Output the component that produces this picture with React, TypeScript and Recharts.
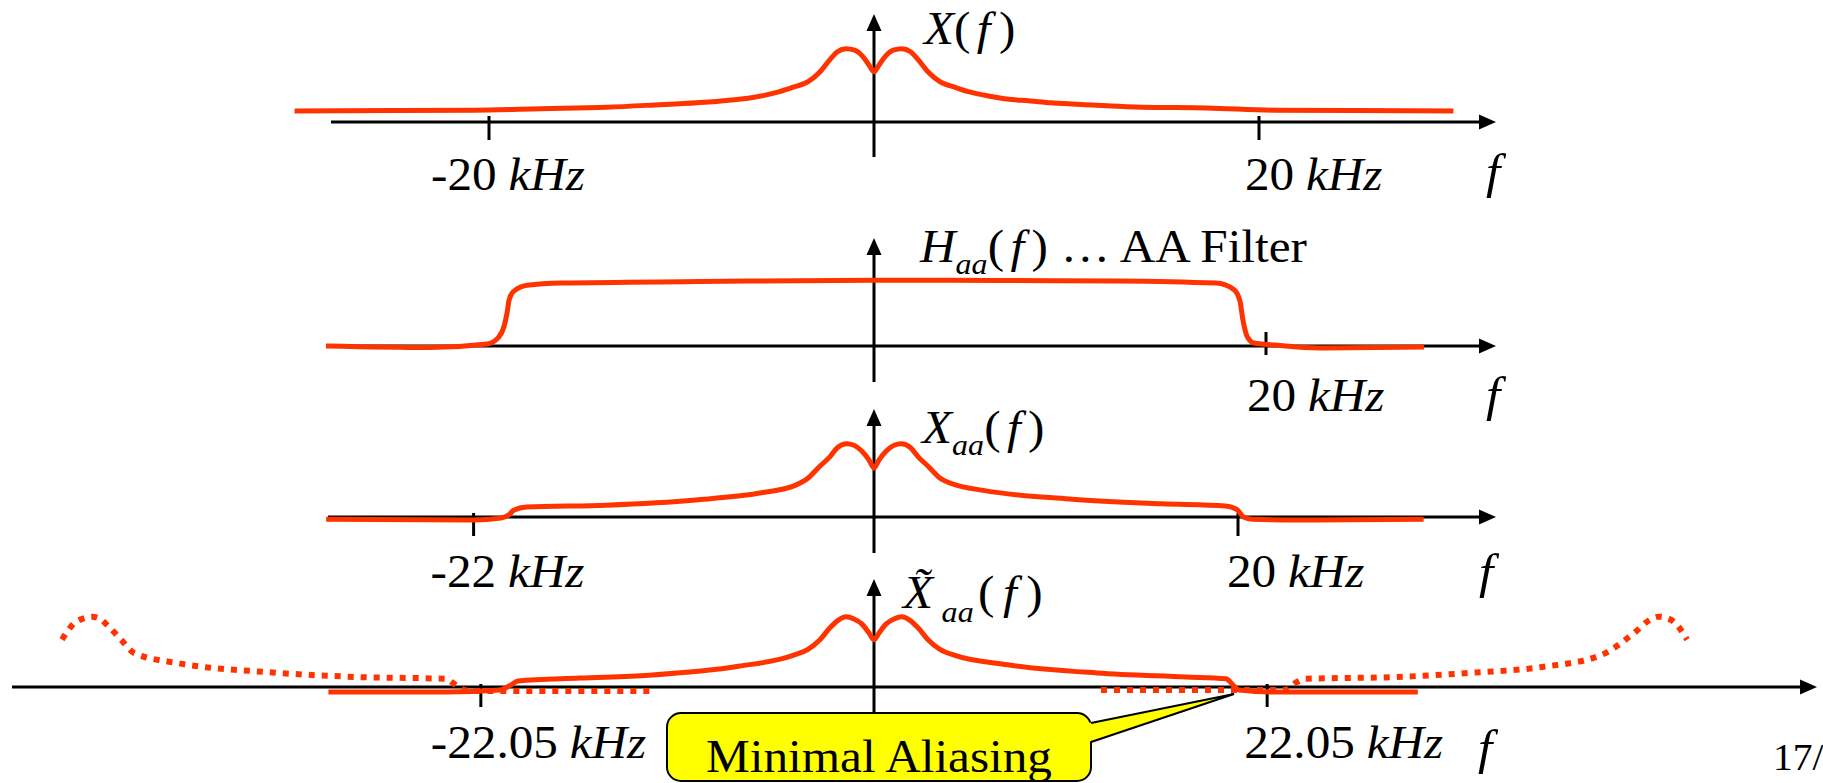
import React from "react";
import { LineChart, Line, XAxis, YAxis, ReferenceLine, ReferenceDot } from "recharts";

// X(f): input spectrum, frequency in kHz, magnitude relative to the peak
const spectrumF = [-30.1, -24.9, -20.8, -17.3, -13.9, -11.4, -9.2, -6.9, -5.7, -4.9, -4.2, -3.4, -2.8, -2.3, -1.9, -1.45, -1.0, -0.6, -0.26, 0, 0.26, 0.6, 1.0, 1.45, 1.9, 2.3, 2.8, 3.4, 4.2, 4.9, 5.7, 6.9, 8.1, 9.2, 11.4, 13.9, 17.3, 20.8, 24.9, 30.1];
const spectrumA = [0.15, 0.155, 0.16, 0.18, 0.2, 0.23, 0.26, 0.31, 0.36, 0.41, 0.47, 0.55, 0.68, 0.84, 0.95, 0.99, 0.97, 0.89, 0.77, 0.68, 0.77, 0.89, 0.97, 0.99, 0.95, 0.84, 0.68, 0.55, 0.47, 0.41, 0.365, 0.31, 0.285, 0.26, 0.23, 0.2, 0.19, 0.16, 0.155, 0.15];

// H_aa(f): anti-aliasing filter
const filterF = [-27.96, -22.7, -19.74, -19.18, -18.88, -18.72, -18.62, -18.42, -17.7, -15.92, -8.88, 0, 6.43, 12.45, 17.45, 18.37, 18.67, 18.83, 19.03, 19.39, 20.41, 22.7, 28.06];
const filterA = [0, -0.02, 0.027, 0.11, 0.26, 0.45, 0.62, 0.73, 0.82, 0.85, 0.87, 0.89, 0.885, 0.88, 0.85, 0.76, 0.61, 0.34, 0.135, 0.04, 0.014, -0.027, -0.014];

// X_aa(f): filtered spectrum
const filteredF = [-30.1, -22.0, -20.5, -20.05, -19.8, -19.1, -14.7, -9.8, -6.1, -4.4, -3.6, -3.0, -2.4, -2.0, -1.5, -1.1, -0.66, -0.27, 0, 0.27, 0.66, 1.1, 1.5, 2.0, 2.4, 3.0, 3.6, 4.4, 6.0, 10.9, 15.8, 19.3, 19.95, 20.3, 20.8, 23.2, 30.2];
const filteredA = [-0.03, -0.04, -0.015, 0.03, 0.09, 0.135, 0.16, 0.23, 0.33, 0.42, 0.53, 0.68, 0.82, 0.94, 0.99, 0.97, 0.89, 0.77, 0.66, 0.77, 0.89, 0.97, 0.99, 0.94, 0.82, 0.68, 0.53, 0.44, 0.36, 0.24, 0.18, 0.15, 0.1, 0.0, -0.03, -0.04, -0.03];

// X~_aa(f): sampled spectrum, base band plus the two neighbouring images
const sampledF = [-30.6, -24.0, -21.0, -20.36, -19.97, -16.5, -12.6, -7.6, -4.5, -3.7, -3.03, -2.47, -2.02, -1.57, -1.12, -0.67, -0.28, 0, 0.28, 0.67, 1.12, 1.57, 2.02, 2.47, 3.03, 3.7, 4.5, 7.5, 12.5, 17.5, 19.74, 20.13, 20.47, 22.5, 30.5];
const sampledA = [-0.068, -0.068, -0.04, 0.027, 0.08, 0.12, 0.16, 0.28, 0.43, 0.51, 0.64, 0.8, 0.9, 0.95, 0.92, 0.85, 0.73, 0.64, 0.73, 0.85, 0.92, 0.95, 0.9, 0.8, 0.64, 0.51, 0.43, 0.3, 0.19, 0.135, 0.11, 0.03, -0.04, -0.068, -0.068];
const aliasLeftF = [-45.54, -44.87, -44.3, -43.87, -43.4, -43.02, -42.23, -41.5, -38.98, -33.99, -29.0, -24.0, -23.61, -23.22, -22.66, -12.56];
const aliasLeftA = [0.64, 0.86, 0.93, 0.95, 0.92, 0.84, 0.64, 0.46, 0.32, 0.2, 0.135, 0.11, 0.054, -0.014, -0.054, -0.054];
const aliasRightF = [12.73, 20.25, 23.05, 23.72, 24.17, 29.28, 33.37, 37.46, 40.77, 42.63, 43.6, 44.03, 44.5, 44.87, 45.6];
const aliasRightA = [-0.04, -0.04, -0.04, 0.068, 0.11, 0.135, 0.19, 0.27, 0.43, 0.73, 0.92, 0.95, 0.93, 0.88, 0.64];

// tick values (kHz)
const ticksX = [-20, 20];
const ticksH = [20];
const ticksXaa = [-22, 20];
const ticksXs = [-22.05, 22.05];

const RED = "#ff3300";
const SERIF = '"Liberation Serif", "Times New Roman", Times, serif';
const PAGE_W = 1823;
const PAGE_H = 783;
const ZERO_PX = 874; // page x of f = 0
const UNIT = 74; // px per magnitude unit
const PLOT_H = 148; // y domain [-0.5, 1.5]
const TOP_PAD = 45;
const FS = 46;
const SX = 1.07; // slide text is slightly stretched

type Row = { f: number; a: number };
type Curve = { key: string; rows: Row[]; dashed?: boolean };

const toRows = (f: number[], a: number[]): Row[] => f.map((v, i) => ({ f: v, a: a[i] }));

function T(x: number, y: number, children: React.ReactNode, size = FS, anchor: "start" | "middle" = "start") {
  return (
    <g transform={`translate(${x},${y}) scale(${SX},1)`}>
      <text x={0} y={0} fontFamily={SERIF} fontSize={size} fill="#000" textAnchor={anchor}>
        {children}
      </text>
    </g>
  );
}

function arrowShape(after?: (x: number, y: number) => React.ReactNode) {
  return (p: any) => {
    const { x1, y1, x2, y2 } = p;
    const len = Math.hypot(x2 - x1, y2 - y1) || 1;
    const ux = (x2 - x1) / len;
    const uy = (y2 - y1) / len;
    const L = 17;
    const W = 7.5;
    const bx = x2 - ux * L;
    const by = y2 - uy * L;
    return (
      <g>
        <line x1={x1} y1={y1} x2={bx + ux * 2} y2={by + uy * 2} stroke="#000" strokeWidth={3} />
        <polygon points={`${x2},${y2} ${bx - uy * W},${by + ux * W} ${bx + uy * W},${by - ux * W}`} fill="#000" />
        {after ? after(x2, y2) : null}
      </g>
    );
  };
}

const kHz = (v: number) => (
  <>
    <tspan>{String(v)}</tspan>
    <tspan fontStyle="italic" dx={11}>kHz</tspan>
  </>
);

type Panel = {
  id: string;
  axisY: number;
  kpx: number;
  axisFromPx: number;
  axisToPx: number;
  vBottom: number;
  ticks: number[];
  tickUp: number;
  tickDown: number;
  labelDx: number[];
  labelDy: number;
  fPx: number;
  fDy: number;
  title: React.ReactNode;
  titleDx: number;
  titleDy: number;
  bottom: number;
  curves: Curve[];
};

const titleX = (
  <>
    <tspan fontStyle="italic">X</tspan>
    <tspan>(</tspan>
    <tspan fontStyle="italic" dx={6}>f</tspan>
    <tspan dx={8}>)</tspan>
  </>
);
const titleH = (
  <>
    <tspan fontStyle="italic">H</tspan>
    <tspan fontStyle="italic" fontSize={30} dy={12}>aa</tspan>
    <tspan dy={-12}>(</tspan>
    <tspan fontStyle="italic" dx={6}>f</tspan>
    <tspan dx={7}>)</tspan>
    <tspan dx={12}>… AA Filter</tspan>
  </>
);
const titleXaa = (
  <>
    <tspan fontStyle="italic">X</tspan>
    <tspan fontStyle="italic" fontSize={30} dy={12}>aa</tspan>
    <tspan dy={-12}>(</tspan>
    <tspan fontStyle="italic" dx={6}>f</tspan>
    <tspan dx={7}>)</tspan>
  </>
);
const titleXs = (
  <>
    <tspan fontStyle="italic">{"X\u0303"}</tspan>
    <tspan fontStyle="italic" fontSize={30} dy={14} dx={8}>aa</tspan>
    <tspan dy={-14} dx={4}>(</tspan>
    <tspan fontStyle="italic" dx={8}>f</tspan>
    <tspan dx={9}>)</tspan>
  </>
);

const callout = (p: any) => {
  const { cx, cy } = p;
  const left = cx - 567;
  const right = cx - 143;
  const top = cy + 19;
  return (
    <g>
      <rect x={left} y={top} width={right - left} height={68} rx={14} ry={14} fill="#ffff00" stroke="#000" strokeWidth={2} />
      <polygon points={`${right - 3},${cy + 29} ${cx},${cy} ${right - 3},${cy + 48}`} fill="#ffff00" />
      <polyline points={`${right},${cy + 29} ${cx},${cy} ${right},${cy + 48}`} fill="none" stroke="#000" strokeWidth={2} />
      {T((left + right) / 2, cy + 78, "Minimal Aliasing", FS, "middle")}
    </g>
  );
};

const panels: Panel[] = [
  {
    id: "x",
    axisY: 122,
    kpx: 19.25,
    axisFromPx: 331,
    axisToPx: 1496,
    vBottom: 35,
    ticks: ticksX,
    tickUp: 6,
    tickDown: 18,
    labelDx: [-58, -14],
    labelDy: 68,
    fPx: 1486,
    fDy: 66,
    title: titleX,
    titleDx: 50,
    titleDy: 30,
    bottom: 62,
    curves: [{ key: "x", rows: toRows(spectrumF, spectrumA) }],
  },
  {
    id: "h",
    axisY: 346,
    kpx: 19.6,
    axisFromPx: 328,
    axisToPx: 1496,
    vBottom: 36,
    ticks: ticksH,
    tickUp: 14,
    tickDown: 9,
    labelDx: [-19],
    labelDy: 65,
    fPx: 1486,
    fDy: 65,
    title: titleH,
    titleDx: 46,
    titleDy: 24,
    bottom: 62,
    curves: [{ key: "h", rows: toRows(filterF, filterA) }],
  },
  {
    id: "xaa",
    axisY: 517,
    kpx: 18.2,
    axisFromPx: 328,
    axisToPx: 1496,
    vBottom: 36,
    ticks: ticksXaa,
    tickUp: 4,
    tickDown: 19,
    labelDx: [-43, -11],
    labelDy: 70,
    fPx: 1479,
    fDy: 71,
    title: titleXaa,
    titleDx: 48,
    titleDy: 34,
    bottom: 62,
    curves: [{ key: "xaa", rows: toRows(filteredF, filteredA) }],
  },
  {
    id: "xs",
    axisY: 687,
    kpx: 17.83,
    axisFromPx: 12,
    axisToPx: 1817,
    vBottom: 26,
    ticks: ticksXs,
    tickUp: 3,
    tickDown: 20,
    labelDx: [-50, -23],
    labelDy: 71,
    fPx: 1478,
    fDy: 77,
    title: titleXs,
    titleDx: 29,
    titleDy: 29,
    bottom: 59,
    curves: [
      { key: "al", rows: toRows(aliasLeftF, aliasLeftA), dashed: true },
      { key: "ar", rows: toRows(aliasRightF, aliasRightA), dashed: true },
      { key: "xs", rows: toRows(sampledF, sampledA) },
    ],
  },
];

function renderPanel(p: Panel) {
  const top = p.axisY - 1.5 * UNIT - TOP_PAD;
  const toF = (px: number) => (px - ZERO_PX) / p.kpx;
  return (
    <div key={p.id} style={{ position: "absolute", left: 0, top }}>
      <LineChart
        width={PAGE_W}
        height={TOP_PAD + PLOT_H + p.bottom}
        margin={{ top: TOP_PAD, right: 0, bottom: p.bottom, left: 0 }}
      >
        <XAxis type="number" dataKey="f" domain={[toF(0), toF(PAGE_W)]} hide />
        <YAxis type="number" dataKey="a" domain={[-0.5, 1.5]} hide />
        <ReferenceLine
          segment={[{ x: toF(p.axisFromPx), y: 0 }, { x: toF(p.axisToPx), y: 0 }]}
          ifOverflow="visible"
          shape={arrowShape()}
        />
        <ReferenceLine
          segment={[{ x: 0, y: -p.vBottom / UNIT }, { x: 0, y: 108 / UNIT }]}
          ifOverflow="visible"
          shape={arrowShape((x, y) => T(x + p.titleDx, y + p.titleDy, p.title))}
        />
        {p.ticks.map((t) => (
          <ReferenceLine
            key={`t${t}`}
            segment={[{ x: t, y: p.tickUp / UNIT }, { x: t, y: -p.tickDown / UNIT }]}
            ifOverflow="visible"
            stroke="#000"
            strokeWidth={3}
          />
        ))}
        {p.ticks.map((t, i) => (
          <ReferenceDot
            key={`l${t}`}
            x={t}
            y={0}
            r={0}
            ifOverflow="visible"
            shape={(d: any) => T(d.cx + p.labelDx[i], d.cy + p.labelDy, kHz(t))}
          />
        ))}
        <ReferenceDot
          x={toF(p.fPx)}
          y={0}
          r={0}
          ifOverflow="visible"
          shape={(d: any) => T(d.cx, d.cy + p.fDy, <tspan fontStyle="italic">f</tspan>, 48)}
        />
        {p.curves.map((c) => (
          <Line
            key={c.key}
            data={c.rows}
            dataKey="a"
            type="monotone"
            stroke={RED}
            strokeWidth={c.dashed ? 6 : 5}
            strokeDasharray={c.dashed ? "6 7" : undefined}
            strokeLinejoin="round"
            dot={false}
            activeDot={false}
            isAnimationActive={false}
          />
        ))}
        {p.id === "xs" ? (
          <ReferenceDot x={toF(1234)} y={-7 / UNIT} r={0} ifOverflow="visible" shape={callout} />
        ) : null}
        {p.id === "xs" ? (
          <ReferenceDot
            x={toF(1773)}
            y={0}
            r={0}
            ifOverflow="visible"
            shape={(d: any) => T(d.cx, d.cy + 83, "17/18", 37)}
          />
        ) : null}
      </LineChart>
    </div>
  );
}

export default function App() {
  return (
    <div
      style={{
        position: "absolute",
        left: 0,
        top: 0,
        width: PAGE_W,
        height: PAGE_H,
        overflow: "hidden",
        background: "#fff",
      }}
    >
      {panels.map(renderPanel)}
    </div>
  );
}
